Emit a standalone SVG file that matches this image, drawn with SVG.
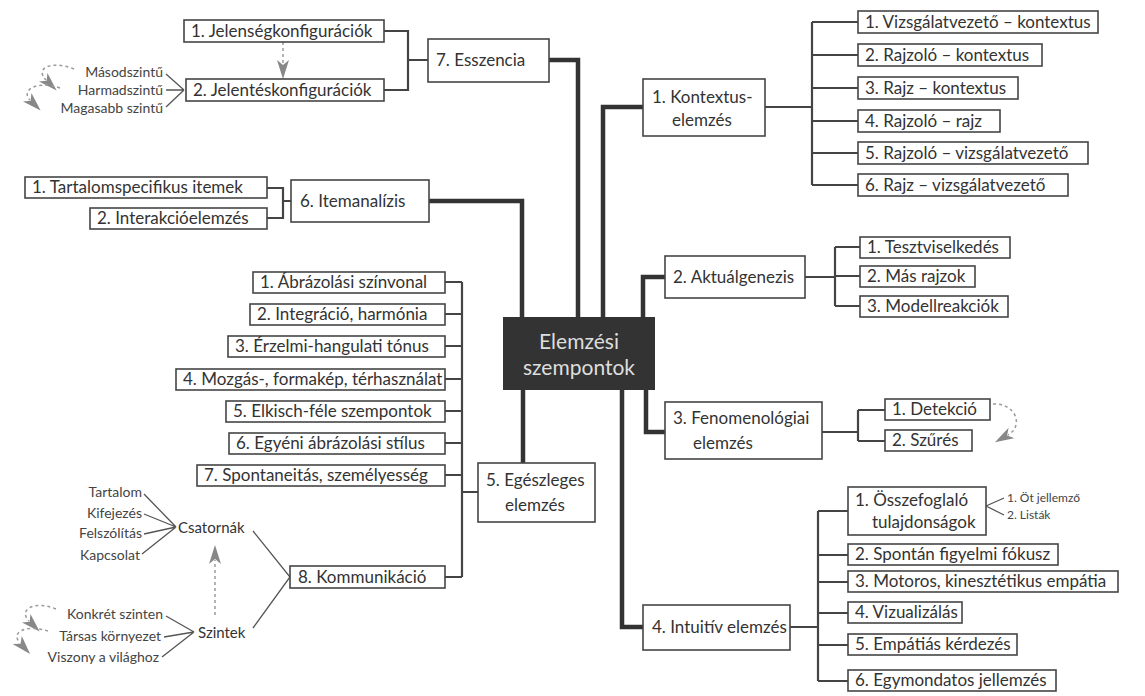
<svg xmlns="http://www.w3.org/2000/svg" width="1145" height="696" viewBox="0 0 1145 696">
  <style>
    .box { fill: #fff; stroke: #454545; stroke-width: 1.6; }
    .t { font-family: Lato, "Open Sans", "Liberation Sans", sans-serif; font-size: 17px; fill: #333; }
    .s { font-size: 14px; fill: #444; }
    .xs { font-size: 12px; fill: #444; }
    .r { text-anchor: end; }
    .trunk { fill: none; stroke: #333; stroke-width: 4.5; }
    .branch { fill: none; stroke: #444; stroke-width: 2.2; }
    .thin { fill: none; stroke: #555; stroke-width: 1.3; }
    .dash { fill: none; stroke: #9a9a9a; stroke-width: 1.5; stroke-dasharray: 3 3; }
    .core { fill: #333; }
    .coretext { font-family: Lato, "Open Sans", "Liberation Sans", sans-serif; font-size: 21px; fill: #dedede; text-anchor: middle; }
  </style>
  <defs>
    <marker id="feather" markerUnits="userSpaceOnUse" markerWidth="20" markerHeight="12" refX="4" refY="6" orient="auto" viewBox="0 0 20 12">
      <path d="M0,0 L19,6 L0,12 L5,6 z" fill="#888"/>
    </marker>
  </defs>
  <rect width="1145" height="696" fill="#fff"/>

  <!-- connectors -->
  <g id="connectors">
    <!-- main trunks from the centre -->
    <path class="trunk" d="M549,60 H578 V317"/>
    <path class="trunk" d="M429,201 H522 V317"/>
    <path class="trunk" d="M603,317 V107 H643"/>
    <path class="trunk" d="M643,317 V277 H665"/>
    <path class="trunk" d="M646,390 V432 H665"/>
    <path class="trunk" d="M622,390 V627 H643"/>
    <path class="trunk" d="M523,390 V463"/>

    <!-- 7. Esszencia bracket -->
    <path class="branch" d="M384,31 H408 V90 H384 M408,60 H428"/>
    <!-- 6. Itemanalízis bracket -->
    <path class="branch" d="M267,188 H283 V218 H267 M283,201 H291"/>
    <!-- 1. Kontextus bracket -->
    <path class="branch" d="M765,107 H812 M812,22 V185 M812,22 H858 M812,55 H858 M812,88 H858 M812,121 H858 M812,153 H858 M812,185 H858"/>
    <!-- 2. Aktuálgenezis bracket -->
    <path class="branch" d="M805,277 H835 M835,247 V306 M835,247 H860 M835,276 H860 M835,306 H860"/>
    <!-- 3. Fenomenológiai bracket -->
    <path class="branch" d="M822,432 H858 M858,410 V441 M858,410 H885 M858,441 H885"/>
    <!-- 4. Intuitív bracket -->
    <path class="branch" d="M790,627 H818 M818,511 V681 M818,511 H848 M818,555 H848 M818,582 H848 M818,613 H848 M818,645 H848 M818,681 H848"/>
    <!-- 5. Egészleges bracket -->
    <path class="branch" d="M462,282 V577 M445,282 H462 M445,314 H462 M445,346 H462 M445,379 H462 M445,411 H462 M445,443 H462 M445,475 H462 M445,577 H462 M462,492 H478"/>

    <!-- thin fan lines -->
    <path class="thin" d="M166,74 L184,90 M166,90 H184 M166,107 L184,90"/>
    <path class="thin" d="M144,494 L176,527 M144,514 L176,527 M144,534 L176,527 M142,554 L176,527"/>
    <path class="thin" d="M166,616 L194,632 M164,637 L194,632 M162,657 L194,632"/>
    <path class="thin" d="M253,531 L290,577 L253,628"/>
    <path class="thin" d="M986,506 L1004,498 M986,506 L1004,515"/>

    <!-- dashed arrows -->
    <path class="dash" d="M283,42 V64" marker-end="url(#feather)"/>
    <path class="dash" d="M215,615 V560" marker-end="url(#feather)"/>
    <path class="dash" d="M74,69 C52,60 34,68 46,80" marker-end="url(#feather)"/>
    <path class="dash" d="M60,88 C38,80 20,90 30,100" marker-end="url(#feather)"/>
    <path class="dash" d="M56,609 C34,600 18,610 29,621" marker-end="url(#feather)"/>
    <path class="dash" d="M48,631 C26,624 10,632 20,643" marker-end="url(#feather)"/>
    <path class="dash" d="M993,404 C1016,403 1024,426 1008,435" marker-end="url(#feather)"/>
  </g>

  <!-- centre -->
  <g id="center">
    <rect class="core" x="503" y="317" width="152" height="73"/>
    <text class="coretext" x="579" y="349">Elemzési</text>
    <text class="coretext" x="579" y="375">szempontok</text>
  </g>

  <!-- 7. Esszencia -->
  <g id="esszencia">
    <rect class="box" x="428" y="39" width="121" height="43"/>
    <text class="t" x="436" y="66">7. Esszencia</text>
  </g>
  <g id="jelenseg">
    <rect class="box" x="184" y="20" width="200" height="22"/>
    <text class="t" x="191" y="37">1. Jelenségkonfigurációk</text>
  </g>
  <g id="jelentes">
    <rect class="box" x="186" y="79" width="198" height="22"/>
    <text class="t" x="193" y="96">2. Jelentéskonfigurációk</text>
  </g>
  <g id="szintek-jelentes">
    <text class="t s r" x="163" y="77">Másodszintű</text>
    <text class="t s r" x="163" y="95">Harmadszintű</text>
    <text class="t s r" x="163" y="113">Magasabb szintű</text>
  </g>

  <!-- 6. Itemanalízis -->
  <g id="itemanalizis">
    <rect class="box" x="291" y="180" width="138" height="42"/>
    <text class="t" x="300" y="207">6. Itemanalízis</text>
  </g>
  <g id="tartalomspecifikus">
    <rect class="box" x="25" y="177" width="242" height="21"/>
    <text class="t" x="32" y="193">1. Tartalomspecifikus itemek</text>
  </g>
  <g id="interakcio">
    <rect class="box" x="90" y="208" width="177" height="21"/>
    <text class="t" x="97" y="224">2. Interakcióelemzés</text>
  </g>

  <!-- 1. Kontextuselemzés -->
  <g id="kontextus">
    <rect class="box" x="643" y="79" width="122" height="57"/>
    <text class="t" x="652" y="103">1. Kontextus-</text>
    <text class="t" x="672" y="126">elemzés</text>
  </g>
  <g id="k1"><rect class="box" x="858" y="11" width="240" height="22"/><text class="t" x="865" y="28">1. Vizsgálatvezető – kontextus</text></g>
  <g id="k2"><rect class="box" x="858" y="44" width="184" height="22"/><text class="t" x="865" y="61">2. Rajzoló – kontextus</text></g>
  <g id="k3"><rect class="box" x="858" y="77" width="160" height="22"/><text class="t" x="865" y="94">3. Rajz – kontextus</text></g>
  <g id="k4"><rect class="box" x="858" y="110" width="142" height="22"/><text class="t" x="865" y="127">4. Rajzoló – rajz</text></g>
  <g id="k5"><rect class="box" x="858" y="142" width="230" height="22"/><text class="t" x="865" y="159">5. Rajzoló – vizsgálatvezető</text></g>
  <g id="k6"><rect class="box" x="858" y="174" width="210" height="22"/><text class="t" x="865" y="191">6. Rajz – vizsgálatvezető</text></g>

  <!-- 2. Aktuálgenezis -->
  <g id="aktualgenezis">
    <rect class="box" x="665" y="256" width="140" height="42"/>
    <text class="t" x="673" y="283">2. Aktuálgenezis</text>
  </g>
  <g id="a1"><rect class="box" x="860" y="237" width="150" height="21"/><text class="t" x="867" y="253">1. Tesztviselkedés</text></g>
  <g id="a2"><rect class="box" x="860" y="266" width="115" height="21"/><text class="t" x="867" y="282">2. Más rajzok</text></g>
  <g id="a3"><rect class="box" x="860" y="296" width="148" height="21"/><text class="t" x="867" y="312">3. Modellreakciók</text></g>

  <!-- 3. Fenomenológiai elemzés -->
  <g id="fenomenologiai">
    <rect class="box" x="665" y="402" width="157" height="57"/>
    <text class="t" x="673" y="424">3. Fenomenológiai</text>
    <text class="t" x="693" y="449">elemzés</text>
  </g>
  <g id="f1"><rect class="box" x="885" y="399" width="105" height="21"/><text class="t" x="892" y="415">1. Detekció</text></g>
  <g id="f2"><rect class="box" x="885" y="430" width="87" height="21"/><text class="t" x="892" y="446">2. Szűrés</text></g>

  <!-- 4. Intuitív elemzés -->
  <g id="intuitiv">
    <rect class="box" x="643" y="605" width="147" height="45"/>
    <text class="t" x="652" y="633">4. Intuitív elemzés</text>
  </g>
  <g id="i1">
    <rect class="box" x="848" y="487" width="138" height="48"/>
    <text class="t" x="855" y="506">1. Összefoglaló</text>
    <text class="t" x="872" y="528">tulajdonságok</text>
  </g>
  <g id="i1-sub">
    <text class="t xs" x="1007" y="502">1. Öt jellemző</text>
    <text class="t xs" x="1007" y="519">2. Listák</text>
  </g>
  <g id="i2"><rect class="box" x="848" y="544" width="210" height="21"/><text class="t" x="855" y="560">2. Spontán figyelmi fókusz</text></g>
  <g id="i3"><rect class="box" x="848" y="571" width="270" height="21"/><text class="t" x="855" y="587">3. Motoros, kinesztétikus empátia</text></g>
  <g id="i4"><rect class="box" x="848" y="602" width="114" height="21"/><text class="t" x="855" y="618">4. Vizualizálás</text></g>
  <g id="i5"><rect class="box" x="848" y="634" width="169" height="21"/><text class="t" x="855" y="650">5. Empátiás kérdezés</text></g>
  <g id="i6"><rect class="box" x="848" y="670" width="208" height="21"/><text class="t" x="855" y="686">6. Egymondatos jellemzés</text></g>

  <!-- 5. Egészleges elemzés -->
  <g id="egeszleges">
    <rect class="box" x="478" y="463" width="117" height="59"/>
    <text class="t" x="486" y="486">5. Egészleges</text>
    <text class="t" x="505" y="511">elemzés</text>
  </g>
  <g id="e1"><rect class="box" x="253" y="272" width="192" height="21"/><text class="t" x="260" y="288">1. Ábrázolási színvonal</text></g>
  <g id="e2"><rect class="box" x="250" y="304" width="195" height="21"/><text class="t" x="257" y="320">2. Integráció, harmónia</text></g>
  <g id="e3"><rect class="box" x="228" y="336" width="217" height="21"/><text class="t" x="235" y="352">3. Érzelmi-hangulati tónus</text></g>
  <g id="e4"><rect class="box" x="176" y="369" width="269" height="21"/><text class="t" x="183" y="385">4. Mozgás-, formakép, térhasználat</text></g>
  <g id="e5"><rect class="box" x="226" y="401" width="219" height="21"/><text class="t" x="233" y="417">5. Elkisch-féle szempontok</text></g>
  <g id="e6"><rect class="box" x="229" y="433" width="216" height="21"/><text class="t" x="236" y="449">6. Egyéni ábrázolási stílus</text></g>
  <g id="e7"><rect class="box" x="197" y="465" width="248" height="21"/><text class="t" x="204" y="481">7. Spontaneitás, személyesség</text></g>
  <g id="e8"><rect class="box" x="290" y="566" width="155" height="22"/><text class="t" x="298" y="583">8. Kommunikáció</text></g>

  <!-- 8. Kommunikáció: csatornák és szintek -->
  <g id="csatornak">
    <text class="t s r" x="142" y="497">Tartalom</text>
    <text class="t s r" x="142" y="518">Kifejezés</text>
    <text class="t s r" x="142" y="538">Felszólítás</text>
    <text class="t s r" x="140" y="560">Kapcsolat</text>
    <text class="t" x="178" y="533" style="font-size:15px">Csatornák</text>
  </g>
  <g id="szintek">
    <text class="t s r" x="163" y="619">Konkrét szinten</text>
    <text class="t s r" x="161" y="641">Társas környezet</text>
    <text class="t s r" x="159" y="662">Viszony a világhoz</text>
    <text class="t" x="198" y="638" style="font-size:15px">Szintek</text>
  </g>
</svg>
